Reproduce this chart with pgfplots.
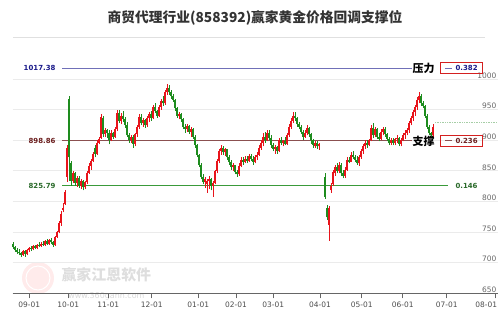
\documentclass[border=0pt]{standalone}
\usepackage{fontspec}
\setmainfont{DejaVu Sans}
\newfontfamily\cjk{Noto Sans CJK SC}
\usepackage{pgfplots}
\pgfplotsset{compat=1.18}
\usepackage{pgfplotstable}
\definecolor{upred}{HTML}{E8141B}
\definecolor{dngreen}{HTML}{1E8C1E}
\definecolor{lblue}{HTML}{7070B8}
\definecolor{tblue}{HTML}{1A1A8A}
\definecolor{lbrown}{HTML}{8B5050}
\definecolor{tbrown}{HTML}{6B1E1E}
\definecolor{lgreen}{HTML}{3A9A3A}
\definecolor{tgreen}{HTML}{2A6A2A}
\definecolor{boxred}{HTML}{D42020}
\pgfplotstableread{
x o h l c
13 730 733 722 725
15 725 728 718 720
17 720 724 714 717
19 717 722 712 715
21 715 718 709 713
23 713 721 711 719
25 719 720 710 714
27 714 722 712 720
29 720 726 718 724
31 724 727 719 722
33 722 729 720 727
35 727 729 722 724
37 724 731 722 729
39 729 733 725 727
41 727 733 726 731
43 731 735 727 729
45 729 737 727 735
47 735 738 729 731
49 731 739 729 737
51 737 740 731 733
53 733 736 726 729
55 729 744 728 742
57 742 752 740 750
59 750 768 748 765
61 765 784 760 780
63 786 798 782 790
65 795 818 794 815
67 840 892 832 888
69 968 972 834 872
71 862 866 826 834
73 834 850 830 846
75 846 848 826 830
77 830 842 824 839
79 839 841 822 826
81 826 836 820 833
83 833 835 818 823
85 823 834 821 831
87 831 850 829 847
89 847 862 845 858
91 858 870 852 866
93 866 880 864 877
95 888 892 872 878
97 878 900 876 896
99 896 905 893 902
101 904 942 902 938
103 936 940 905 910
105 910 920 906 916
107 916 918 904 911
109 911 916 893 900
111 900 916 898 912
113 912 914 902 906
115 906 922 904 918
117 918 950 915 945
119 945 950 928 932
121 932 944 926 940
123 940 948 930 934
125 934 938 920 925
127 925 930 905 908
129 908 912 896 900
131 900 908 896 905
133 905 908 888 894
135 894 912 890 910
137 910 925 906 922
139 922 942 918 938
141 938 942 924 928
143 928 936 922 933
145 933 935 920 924
147 924 940 922 936
149 936 946 930 942
151 942 948 932 936
153 936 958 934 955
155 955 960 944 948
157 948 950 936 940
159 940 958 938 955
161 955 968 950 964
163 964 972 956 960
165 960 982 958 978
167 978 991 974 986
169 986 990 974 978
171 978 982 968 972
173 972 976 962 966
175 966 968 948 952
177 952 954 936 940
179 940 946 934 943
181 943 944 930 934
183 934 936 918 922
185 922 926 912 918
187 918 926 914 923
189 923 925 910 914
191 914 922 906 919
193 919 920 902 906
195 906 908 888 892
197 892 894 872 876
199 876 878 856 860
201 860 862 836 840
203 840 844 828 832
205 832 840 822 837
207 828 836 814 833
209 833 842 820 837
211 837 838 818 826
213 826 834 808 830
215 830 852 828 850
217 850 870 846 866
219 866 886 862 882
221 882 892 876 888
223 888 890 876 880
225 880 888 874 885
227 885 886 868 872
229 872 876 860 864
231 864 868 852 856
233 856 862 850 859
235 859 860 844 848
237 848 852 840 844
239 844 862 842 858
241 858 872 856 868
243 868 872 860 865
245 865 874 862 870
247 870 874 862 866
249 866 878 864 874
251 874 878 866 870
253 870 874 860 864
255 864 876 862 872
257 872 880 868 876
259 876 892 874 888
261 888 900 884 896
263 896 912 890 906
265 906 914 896 900
267 900 916 898 912
269 912 916 900 904
271 904 908 888 892
273 892 896 882 886
275 886 892 878 889
277 889 890 878 882
279 882 904 880 900
281 900 906 892 896
283 896 900 890 899
285 899 906 892 894
287 894 912 892 908
289 908 926 906 922
291 922 936 918 932
293 932 946 928 940
295 940 946 932 936
297 936 938 922 926
299 926 930 918 922
301 922 924 910 914
303 914 916 900 906
305 906 916 904 912
307 912 924 908 920
309 920 922 906 910
311 910 912 894 900
313 900 902 888 892
315 890 898 888 896
317 896 898 886 890
319 890 896 884 894
325 840 846 804 808
327 790 794 770 774
329 762 792 736 790
331 818 830 814 826
333 828 852 826 848
335 846 860 842 856
337 856 862 846 850
339 850 864 846 860
341 860 862 842 846
343 846 852 838 842
345 842 856 838 852
347 852 872 850 868
349 868 872 862 865
351 865 880 864 876
353 876 882 870 873
355 873 876 864 868
357 868 874 860 862
359 862 876 858 872
361 872 886 870 882
363 882 894 878 890
365 890 900 886 896
367 896 900 888 892
369 892 902 890 900
371 900 924 898 920
373 920 928 904 908
375 908 922 906 918
377 918 920 902 906
379 906 912 898 902
381 902 918 900 914
383 914 922 908 918
385 918 922 906 910
387 910 912 898 902
389 902 906 892 896
391 896 904 892 900
393 900 904 892 896
395 896 904 892 902
397 902 908 896 904
399 904 906 890 894
401 894 904 890 900
403 900 912 898 908
405 908 916 902 912
407 912 920 908 916
409 916 932 912 928
411 928 940 924 936
413 936 950 932 946
415 946 958 940 954
417 954 970 950 966
419 966 978 960 972
421 972 976 956 960
423 960 964 952 956
425 956 958 936 940
427 940 942 918 922
429 922 924 908 912
431 912 914 904 908
433 908 926 906 922
}\candles
\begin{document}
\begin{tikzpicture}[x=1bp,y=1bp]
\path[use as bounding box] (0,0) rectangle (499,309);
% title
\node[font=\cjk\bfseries\fontsize{13.8}{15}\selectfont, text=black!80] at (255,290.7) {商贸代理行业(858392)赢家黄金价格回调支撑位};
\draw[black!12, line width=0.8bp] (13,272) -- (485,272);
% watermark
\fill[red!8] (38,31) circle (16);
\draw[white, line width=1bp] (38,31) circle (12);
\node[font=\cjk\bfseries\fontsize{15}{16}\selectfont, text=black!13, anchor=west] at (58,34) {赢家江恩软件};
\node[font=\fontsize{8}{9}\selectfont, text=black!15, anchor=east] at (148,12.5) {www.360gann.com};
\begin{axis}[
  at={(12.5,25.7)}, anchor=south west, scale only axis,
  width=485.5bp, height=238.8bp,
  xmin=12.5, xmax=498, ymin=650, ymax=1040,
  axis x line*=bottom, axis y line*=right,
  y axis line style={draw=none},
  x axis line style={draw=black!60, line width=0.8bp},
  xtick={29.3,68.3,108.3,151.7,198.3,236,273.3,320,361.7,402.7,446.7,495},
  xticklabels={09-01,10-01,11-01,12-01,01-01,02-01,03-01,04-01,05-01,06-01,07-01,\makebox[4bp][r]{08-01}},
  ytick={650,700,...,1000},
  ymajorgrids, grid style={black!8, line width=0.8bp},
  tick align=outside, major tick length=5bp,
  xtick style={draw=black!60, line width=0.6bp},
  ytick style={draw=none},
  yticklabel pos=right,
  yticklabel style={anchor=south east, inner sep=0.5bp, xshift=-6bp, font=\fontsize{7.5}{8}\selectfont, text=black!60},
  xticklabel style={font=\fontsize{7.5}{8}\selectfont, text=black!70},
  /pgf/number format/assume math mode=true,
  /pgf/number format/1000 sep={},
  clip=false,
]
% level lines
\addplot[draw=lblue, line width=0.8bp] coordinates {(62,1017.38) (412,1017.38)};
\addplot[draw=lbrown, line width=0.8bp] coordinates {(62,898.86) (412,898.86)};
\addplot[draw=lgreen, line width=0.8bp] coordinates {(62,825.79) (448,825.79)};
\addplot[draw=green!45!black!35, densely dotted, line width=0.7bp] coordinates {(435,928.5) (497,928.5)};
% wicks
\addplot[forget plot, draw=none, restrict expr to domain={\thisrow{c}-\thisrow{o}}{0:1000},
  error bars/.cd, y dir=plus, y explicit, error mark=none,
  error bar style={draw=upred, line width=0.6bp}]
  table[x=x, y=l, y error plus expr=\thisrow{h}-\thisrow{l}] {\candles};
\addplot[forget plot, draw=none, restrict expr to domain={\thisrow{o}-\thisrow{c}}{0.001:1000},
  error bars/.cd, y dir=plus, y explicit, error mark=none,
  error bar style={draw=dngreen, line width=0.6bp}]
  table[x=x, y=l, y error plus expr=\thisrow{h}-\thisrow{l}] {\candles};
% bodies
\addplot[forget plot, draw=none, restrict expr to domain={\thisrow{c}-\thisrow{o}}{0:1000},
  error bars/.cd, y dir=plus, y explicit, error mark=none,
  error bar style={draw=upred, line width=1.5bp}]
  table[x=x, y=o, y error plus expr=\thisrow{c}-\thisrow{o}] {\candles};
\addplot[forget plot, draw=none, restrict expr to domain={\thisrow{o}-\thisrow{c}}{0.001:1000},
  error bars/.cd, y dir=plus, y explicit, error mark=none,
  error bar style={draw=dngreen, line width=1.5bp}]
  table[x=x, y=c, y error plus expr=\thisrow{o}-\thisrow{c}] {\candles};
% labels
\node[anchor=east, font=\bfseries\fontsize{7}{8}\selectfont, text=tblue] at (axis cs:59,1017.38) {1017.38};
\node[anchor=east, font=\bfseries\fontsize{7}{8}\selectfont, text=tbrown] at (axis cs:59,898.86) {898.86};
\node[anchor=east, font=\bfseries\fontsize{7}{8}\selectfont, text=tgreen] at (axis cs:59,825.79) {825.79};
\node[anchor=west, font=\bfseries\fontsize{7}{8}\selectfont, text=tgreen] at (axis cs:452,825.79) {0.146};
\node[anchor=west, inner sep=0pt, font=\cjk\bfseries\fontsize{11}{12}\selectfont] at (axis cs:412.5,1017.38) {压力};
\node[anchor=west, inner sep=0pt, font=\cjk\bfseries\fontsize{11}{12}\selectfont] at (axis cs:412.5,898.86) {支撑};
\node[anchor=west, draw=boxred, line width=0.8bp, minimum width=42bp, minimum height=11bp, inner sep=0pt,
  font=\bfseries\fontsize{7}{8}\selectfont, text=tblue] at (axis cs:440,1017.38)
  {\textcolor{lblue}{\raisebox{2.2bp}{\rule{7bp}{0.8bp}}}\hspace{3.5bp}0.382};
\node[anchor=west, draw=boxred, line width=0.8bp, minimum width=42bp, minimum height=11bp, inner sep=0pt,
  font=\bfseries\fontsize{7}{8}\selectfont, text=tbrown] at (axis cs:440,898.86)
  {\textcolor{lbrown}{\raisebox{2.2bp}{\rule{7bp}{0.8bp}}}\hspace{3.5bp}0.236};
\end{axis}
\end{tikzpicture}
\end{document}
